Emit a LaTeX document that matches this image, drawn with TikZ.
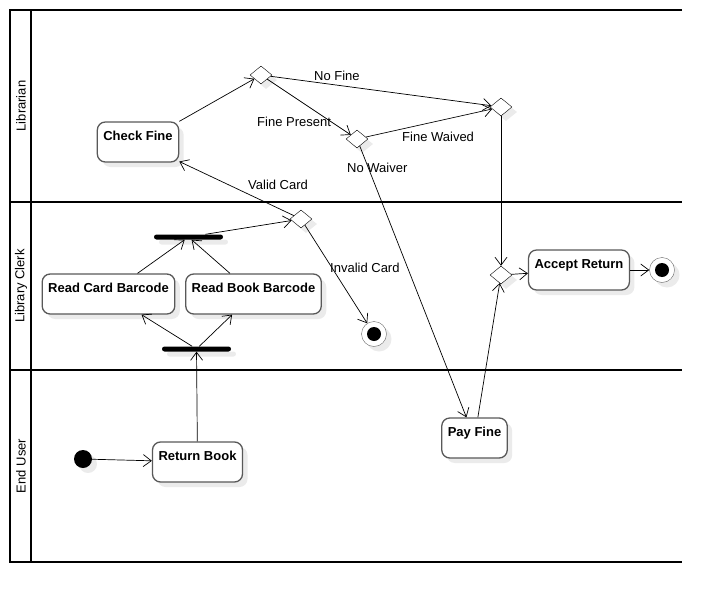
\documentclass[tikz,border=0pt]{standalone}
\usepackage{fontspec}
\setmainfont{Liberation Sans}
\usetikzlibrary{shapes.geometric, arrows.meta, shadows}

\newcommand{\diagfont}{\fontsize{13pt}{15pt}\selectfont}

\tikzset{
	lane/.style={line width=2pt},
	shade/.style={drop shadow={shadow xshift=5pt, shadow yshift=-5pt, fill=black!8, opacity=1}},
	activity/.style={rectangle, draw=black!65, line width=1.3pt, rounded corners=8pt, fill=white, shade, font=\diagfont\bfseries, text height=15pt, text depth=19pt, inner xsep=6pt, inner ysep=3pt},
	decision/.style={diamond, draw, fill=white, shade, minimum width=22pt, minimum height=18pt, inner sep=0pt},
	bar/.style={rectangle, fill=black, shade, rounded corners=2.5pt, minimum width=69pt, minimum height=5pt, inner sep=0pt},
	initial/.style={circle, fill=black, shade, minimum size=18pt, inner sep=0pt},
	final/.style={circle, draw=black!60, fill=white, shade, minimum size=25pt, inner sep=0pt, path picture={\fill[black] (path picture bounding box.center) circle (7pt);}},
	flow/.style={arrows={-Straight Barb[length=8pt, width=12pt]}, line width=0.7pt},
	guard/.style={anchor=base west, inner sep=0pt}
}

\begin{document}
\begin{tikzpicture}[x=1pt, y=-1pt, font=\diagfont]
	\useasboundingbox (0, 0) rectangle (722, 602);

	% lanes
	\draw [lane] (682, 10) -- (10, 10) -- (10, 562) -- (682, 562);
	\draw [lane] (31, 10) -- (31, 562);
	\draw [lane] (10, 202) -- (682, 202);
	\draw [lane] (10, 370) -- (682, 370);
	\node [rotate=90] (laneLib) at (21, 106) {Librarian};
	\node [rotate=90] (laneClerk) at (21, 286) {Library Clerk};
	\node [rotate=90] (laneUser) at (21, 466) {End User};

	% nodes
	\node [initial] (start) at (83, 459) {};
	\node [activity] (returnBook) at (197.5, 462) {Return Book};
	\node [bar] (fork) at (196.5, 349) {};
	\node [activity] (readCard) at (108.5, 294) {Read Card Barcode};
	\node [activity] (readBook) at (253.5, 294) {Read Book Barcode};
	\node [bar] (join) at (188.5, 237) {};
	\node [decision] (cardOk) at (301, 219) {};
	\node [final] (endInvalid) at (374, 334) {};
	\node [activity] (checkFine) at (138, 142) {Check Fine};
	\node [decision] (fineDec) at (261, 75) {};
	\node [decision] (waiveDec) at (357, 139) {};
	\node [decision] (fineMerge) at (501, 107) {};
	\node [activity] (payFine) at (474.5, 438) {Pay Fine};
	\node [decision] (payMerge) at (501, 275) {};
	\node [activity] (acceptReturn) at (579, 270) {Accept Return};
	\node [final] (endDone) at (662, 270) {};

	% flows
	\draw [flow] (start) -- (returnBook);
	\draw [flow] (returnBook) -- (fork);
	\draw [flow] (fork) -- (readCard);
	\draw [flow] (fork) -- (readBook);
	\draw [flow] (readCard) -- (join);
	\draw [flow] (readBook) -- (join);
	\draw [flow] (join) -- (cardOk);
	\draw [flow] (cardOk) -- (checkFine);
	\draw [flow] (cardOk) -- (endInvalid);
	\draw [flow] (checkFine.north east) -- (fineDec);
	\draw [flow] (fineDec) -- (fineMerge);
	\draw [flow] (fineDec) -- (waiveDec);
	\draw [flow] (waiveDec) -- (fineMerge);
	\draw [flow] (waiveDec) -- (payFine);
	\draw [flow] (payFine) -- (payMerge);
	\draw [flow] (fineMerge) -- (payMerge);
	\draw [flow] (payMerge) -- (acceptReturn);
	\draw [flow] (acceptReturn) -- (endDone);

	% guards
	\node [guard] (gNoFine) at (314, 81) {No Fine};
	\node [guard] (gFinePresent) at (257, 126) {Fine Present};
	\node [guard] (gWaived) at (402, 141.5) {Fine Waived};
	\node [guard] (gNoWaiver) at (347, 172.5) {No Waiver};
	\node [guard] (gValid) at (248, 189) {Valid Card};
	\node [guard] (gInvalid) at (330, 272.5) {Invalid Card};
\end{tikzpicture}
\end{document}
